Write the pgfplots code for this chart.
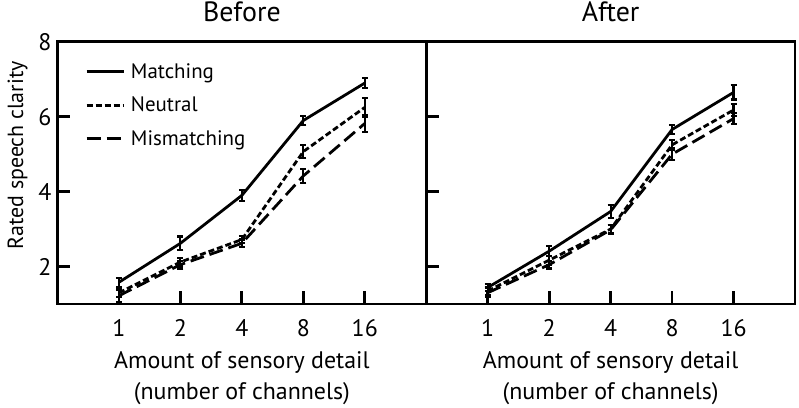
\documentclass[border=0pt]{standalone}
\usepackage{pgfplots}
\pgfplotsset{compat=1.18}
\usepackage{fontspec}
\setmainfont{PT Sans}
\begin{document}
\pgfplotsset{
  panel/.style={
    width=370pt, height=263pt, scale only axis,
    xmin=0, xmax=6, ymin=1, ymax=8,
    xtick={1,2,3,4,5}, xticklabels={1,2,4,8,16},
    ytick={2,4,6,8},
    xtick pos=bottom, ytick pos=left,
    tick align=inside,
    major tick length=13pt,
    axis line style={line width=2.8pt, black},
    tick style={line width=2.8pt, black},
    /pgf/number format/assume math mode=true,
    ticklabel style={font=\fontsize{24}{28}\selectfont},
    xticklabel style={anchor=base, yshift=-33pt, inner sep=0pt},
    yticklabel style={anchor=east, xshift=-6pt, inner sep=0pt},
    title style={at={(0.5,1)}, anchor=base, yshift=14pt, font=\fontsize{28}{32}\selectfont},
    xlabel style={at={(axis description cs:0.5,0)}, anchor=north, yshift=-47pt, inner sep=0pt, align=center, font=\fontsize{24}{32}\selectfont},
    xlabel={Amount of sensory detail\\(number of channels)},
    clip=false,
    every axis plot/.append style={black, line width=2.8pt},
    legend image code/.code={\draw[#1, line width=2.8pt] (0pt,0pt) -- (37pt,0pt);},
  },
  ebar/.style={
    error bars/.cd, y dir=both, y explicit,
    error bar style={line width=2.2pt, solid},
    error mark options={rotate=90, mark size=3pt, line width=2.2pt, solid},
  },
}
\begin{tikzpicture}
\useasboundingbox (0,0) rectangle (799pt,409pt);
\begin{axis}[panel, at={(55pt,104pt)}, anchor=south west,
  title={Before},
  ylabel={Rated speech clarity},
  ylabel style={at={(axis description cs:0,0.567)}, anchor=center, yshift=40pt, font=\fontsize{22}{26}\selectfont},
  legend style={draw=none, fill=none, at={(axis description cs:0.075,0.925)}, anchor=north west,
    font=\fontsize{21}{25}\selectfont, row sep=13pt, inner sep=0pt,
    nodes={inner sep=2pt}, column sep=4pt},
  legend cell align=left,
]
\addplot[solid, ebar] coordinates {
 (1,1.58) +- (0,0.12)
 (2,2.62) +- (0,0.18)
 (3,3.90) +- (0,0.15)
 (4,5.90) +- (0,0.11)
 (5,6.90) +- (0,0.13)
};
\addlegendentry{Matching}
\addplot[dash pattern=on 6pt off 3pt, ebar] coordinates {
 (1,1.30) +- (0,0.12)
 (2,2.12) +- (0,0.10)
 (3,2.72) +- (0,0.09)
 (4,5.07) +- (0,0.17)
 (5,6.25) +- (0,0.25)
};
\addlegendentry{Neutral}
\addplot[dash pattern=on 14pt off 6pt, ebar] coordinates {
 (1,1.22) +- (0,0.16)
 (2,2.05) +- (0,0.10)
 (3,2.62) +- (0,0.10)
 (4,4.42) +- (0,0.18)
 (5,5.82) +- (0,0.22)
};
\addlegendentry{Mismatching}
\end{axis}
\begin{axis}[panel, at={(425pt,104pt)}, anchor=south west,
  title={After},
  yticklabels={},
]
\addplot[solid, ebar] coordinates {
 (1,1.44) +- (0,0.10)
 (2,2.41) +- (0,0.13)
 (3,3.47) +- (0,0.17)
 (4,5.66) +- (0,0.13)
 (5,6.65) +- (0,0.19)
};
\addplot[dash pattern=on 6pt off 3pt, ebar] coordinates {
 (1,1.35) +- (0,0.10)
 (2,2.17) +- (0,0.12)
 (3,3.00) +- (0,0.10)
 (4,5.25) +- (0,0.14)
 (5,6.18) +- (0,0.16)
};
\addplot[dash pattern=on 14pt off 6pt, ebar] coordinates {
 (1,1.30) +- (0,0.12)
 (2,2.05) +- (0,0.10)
 (3,2.98) +- (0,0.12)
 (4,5.00) +- (0,0.15)
 (5,5.95) +- (0,0.14)
};
\end{axis}
\end{tikzpicture}
\end{document}
